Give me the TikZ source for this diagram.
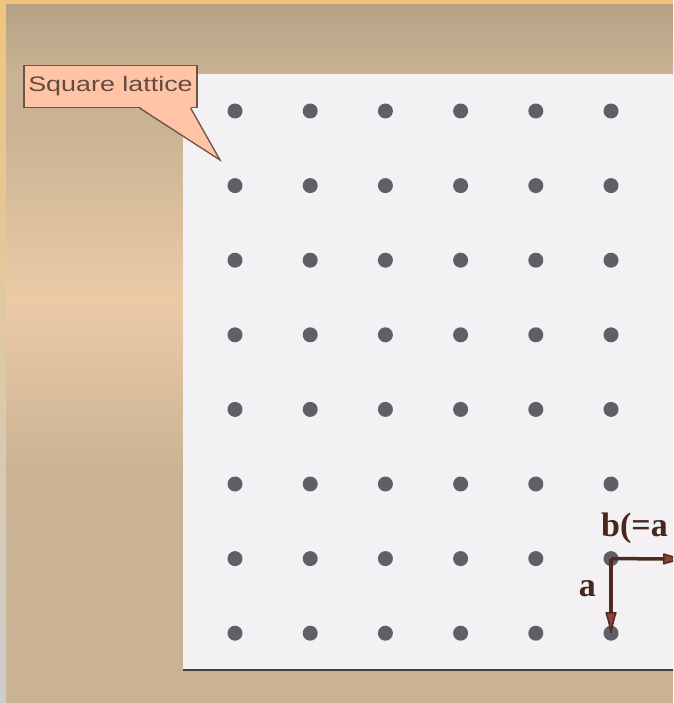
\documentclass[tikz,border=0pt]{standalone}
\usepackage{fontspec}
\setmainfont{Liberation Serif}
\newfontfamily\boxfont{Liberation Sans}
\usetikzlibrary{positioning,arrows.meta,calc}
\definecolor{frame}{HTML}{EFC57E}
\definecolor{tan}{HTML}{CAB394}
\definecolor{glow}{HTML}{EBCBA6}
\definecolor{panel}{HTML}{F3F1F3}
\definecolor{latgray}{HTML}{5F5F67}
\definecolor{salmon}{HTML}{FFC4A6}
\definecolor{rim}{HTML}{6E5446}
\definecolor{vecline}{HTML}{4E2A20}
\definecolor{vechead}{HTML}{8A4438}
\begin{document}
\begin{tikzpicture}[x=1pt,y=-1pt,
    latdot/.style={circle,fill=latgray,inner sep=0pt,minimum size=15pt},
    vec/.style={line width=3.5pt,vecline,-{Latex[length=25pt,width=12pt,round,line width=1.5pt,fill=vechead]}},
    veclabel/.style={font=\fontsize{34}{34}\selectfont\bfseries,text=vecline!90!black,inner sep=0pt}]
    \useasboundingbox (0,0) rectangle (673,703);
    \clip (0,0) rectangle (673,703);
    % background of the slide
    \fill[tan] (0,0) rectangle (673,703);
    \fill[frame] (0,0) rectangle (673,5);
    \shade[top color=frame, bottom color=gray!40] (0,5) rectangle (6,703);
    \shade[top color=tan!90!black, bottom color=tan] (6,5) rectangle (673,75);
    \shade[top color=tan, bottom color=glow] (6,130) rectangle (183,300);
    \shade[top color=glow, bottom color=tan] (6,300) rectangle (183,470);
    % the white sheet
    \fill[panel] (183,74) rectangle (680,669);
    \draw[line width=2.5pt,black!75] (183,670) -- (680,670);
    % lattice points
    \foreach \i in {1,...,6}
      \foreach \j in {1,...,8}
        \node[latdot] (d-\i-\j) at ({235+75.2*(\i-1)},{111+74.6*(\j-1)}) {};
    % unit vectors
    \coordinate (bend) at (684,559);
    \draw[vec] (d-6-7.center) -- (d-6-8.center);
    \draw[vec] (d-6-7.center) -- (bend);
    \node[veclabel,anchor=east] (la) at (596,589) {a};
    \node[veclabel,anchor=base west] (lb) at (601,536) {b(=a};
    % callout
    \node[draw=rim,line width=1.3pt,fill=salmon,minimum width=173pt,minimum height=42pt,
      inner sep=0pt] (box) at (110.5,86.5) {};
    \node[font=\boxfont\fontsize{21}{21}\selectfont,text=rim!90!black,xscale=1.28,transform shape]
      (name) at (box.center) {Square lattice};
    \coordinate (tip) at (220,160);
    \fill[salmon] ($(box.south east)+(-58,-1.5)$) -- (tip) -- ($(box.south east)+(-7,-1.5)$) -- cycle;
    \draw[rim,line width=1.3pt] ($(box.south east)+(-58,0)$) -- (tip) -- ($(box.south east)+(-7,0)$);
  \end{tikzpicture}
\end{document}
